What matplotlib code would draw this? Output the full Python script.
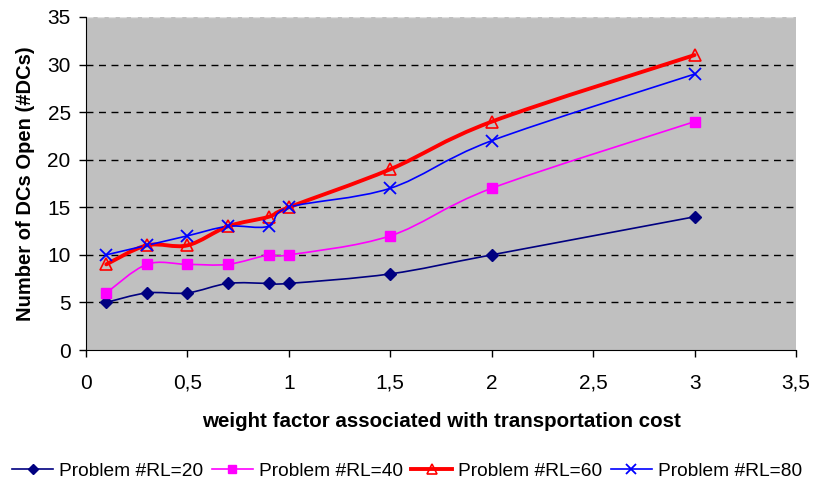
import matplotlib
matplotlib.use("Agg")
import matplotlib.pyplot as plt
from matplotlib.path import Path
from matplotlib.patches import PathPatch
from matplotlib.lines import Line2D

plt.rcParams['font.family'] = ['Liberation Sans', 'DejaVu Sans']

x_values = [0.1, 0.3, 0.5, 0.7, 0.9, 1.0, 1.5, 2.0, 3.0]
rl20 = [5, 6, 6, 7, 7, 7, 8, 10, 14]
rl40 = [6, 9, 9, 9, 10, 10, 12, 17, 24]
rl60 = [9, 11, 11, 13, 14, 15, 19, 24, 31]
rl80 = [10, 11, 12, 13, 13, 15, 17, 22, 29]
series_labels = ["Problem #RL=20", "Problem #RL=40", "Problem #RL=60", "Problem #RL=80"]
x_ticks = [0, 0.5, 1, 1.5, 2, 2.5, 3, 3.5]
x_tick_labels = ["0", "0,5", "1", "1,5", "2", "2,5", "3", "3,5"]
y_ticks = [0, 5, 10, 15, 20, 25, 30, 35]

fig = plt.figure(figsize=(8.14, 4.87), dpi=100)
ax = fig.add_axes([86/814, 1-350/487, (796-86)/814, (350-17)/487])
ax.set_facecolor('#C0C0C0')
ax.set_xlim(0, 3.5)
ax.set_ylim(0, 35)


def smooth_path(xs, ys):
    pts = list(zip(xs, ys))
    n = len(pts)
    verts = [pts[0]]
    codes = [Path.MOVETO]
    for i in range(n - 1):
        p0 = pts[i - 1] if i > 0 else pts[i]
        p1 = pts[i]
        p2 = pts[i + 1]
        p3 = pts[i + 2] if i + 2 < n else pts[i + 1]
        c1 = (p1[0] + (p2[0] - p0[0]) / 6, p1[1] + (p2[1] - p0[1]) / 6)
        c2 = (p2[0] - (p3[0] - p1[0]) / 6, p2[1] - (p3[1] - p1[1]) / 6)
        verts += [c1, c2, p2]
        codes += [Path.CURVE4] * 3
    return Path(verts, codes)


styles = [
    dict(color='#000080', lw=1.2, marker='D', ms=6.5, mfc='#000080', mec='#000080', mew=1),
    dict(color='#FF00FF', lw=1.2, marker='s', ms=7.5, mfc='#FF00FF', mec='#FF00FF', mew=1),
    dict(color='#FF0000', lw=2.8, marker='^', ms=8.5, mfc='none', mec='#FF0000', mew=1.2),
    dict(color='#0000FF', lw=1.2, marker='x', ms=8.5, mfc='none', mec='#0000FF', mew=1.3),
]
data = [rl20, rl40, rl60, rl80]
handles = []
for ys, st, lab in zip(data, styles, series_labels):
    patch = PathPatch(smooth_path(x_values, ys), fill=False, edgecolor=st['color'],
                      lw=st['lw'], zorder=3, capstyle='round', joinstyle='round')
    ax.add_patch(patch)
    ax.plot(x_values, ys, linestyle='none', marker=st['marker'], ms=st['ms'],
            mfc=st['mfc'], mec=st['mec'], mew=st['mew'], zorder=4, clip_on=False)
    handles.append(Line2D([], [], color=st['color'], lw=st['lw'], marker=st['marker'],
                          ms=st['ms'] * 0.85, mfc=st['mfc'], mec=st['mec'], mew=st['mew'], label=lab))

for y in y_ticks[1:-1]:
    ax.axhline(y, color='black', lw=1, ls=(0, (5, 4)), zorder=1)
ax.axhline(35, color='#E0E0E0', lw=1, ls=(0, (5, 3)), zorder=1)

ax.set_xticks(x_ticks)
ax.set_xticklabels(x_tick_labels)
ax.set_yticks(y_ticks)
ax.tick_params(axis='both', direction='out', length=5, width=1, labelsize=15, color='black')
ax.tick_params(axis='x', pad=12)
ax.tick_params(axis='y', pad=6)
for s in ['top', 'right']:
    ax.spines[s].set_visible(False)
ax.spines['left'].set_color('black')
ax.spines['bottom'].set_color('black')

ax.set_xlabel("weight factor associated with transportation cost", fontsize=14.8,
              fontweight='bold', labelpad=14)
ax.set_ylabel("Number of DCs Open (#DCs)", fontsize=14.5, fontweight='bold', labelpad=9)

fig.legend(handles=handles, loc='center', bbox_to_anchor=(0.5, 1-471/487), ncol=4,
           frameon=False, fontsize=13.75, handlelength=2.15, handletextpad=0.3,
           columnspacing=0.45, borderpad=0, borderaxespad=0)

fig.savefig("out.png", dpi=100)
